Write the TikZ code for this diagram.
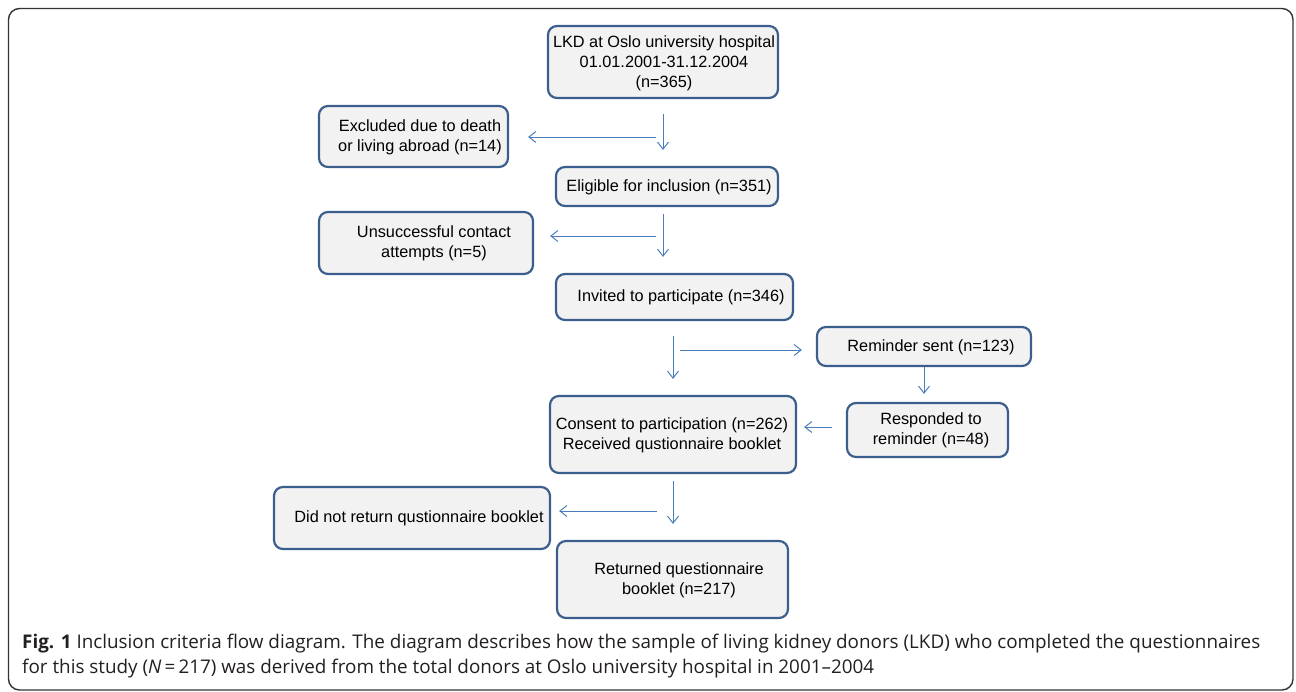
\documentclass[tikz,border=0pt]{standalone}
\usepackage{fontspec}
\setmainfont{Liberation Sans}
\newfontfamily\capfont{Open Sans}
\usetikzlibrary{arrows.meta}
\definecolor{boxdraw}{HTML}{3B5E8C}
\definecolor{boxfill}{HTML}{F2F2F2}
\definecolor{arrowblue}{HTML}{4A7EBB}
\definecolor{captext}{HTML}{231F20}
\tikzset{
  flowbox/.style={draw=boxdraw, fill=boxfill, line width=2.2pt, rounded corners=9pt, inner sep=0pt},
  boxtext/.style={align=center, font=\fontsize{16.3}{19.8}\selectfont, text=black, inner sep=0pt},
  arr/.style={draw=arrowblue, line width=1pt, -{Straight Barb[length=7pt,width=11pt]}},
  captxt/.style={anchor=base west, inner sep=0pt, text=captext, font=\capfont\fontsize{18.85}{21}\selectfont}
}
\begin{document}
\begin{tikzpicture}[x=1pt,y=-1pt]
\useasboundingbox (0,0) rectangle (1296,691);
% outer frame
\draw[line width=1.4pt, draw=black!80, rounded corners=11pt] (8.5,8.5) rectangle (1293,690);

% boxes
\node[flowbox, minimum width=230pt, minimum height=72pt] (lkd)  at (663,62) {};
\node[flowbox, minimum width=189pt, minimum height=61pt] (excl) at (413.5,136.5) {};
\node[flowbox, minimum width=222pt, minimum height=39pt] (elig) at (667,186.5) {};
\node[flowbox, minimum width=214pt, minimum height=62pt] (unsu) at (426,243) {};
\node[flowbox, minimum width=237pt, minimum height=46pt] (invi) at (674.5,297) {};
\node[flowbox, minimum width=214pt, minimum height=39pt] (remi) at (924,346.5) {};
\node[flowbox, minimum width=161pt, minimum height=54pt] (resp) at (927.5,430) {};
\node[flowbox, minimum width=246pt, minimum height=77pt] (cons) at (673,434.5) {};
\node[flowbox, minimum width=276pt, minimum height=62pt] (dnr)  at (412,518) {};
\node[flowbox, minimum width=231pt, minimum height=77pt] (ret)  at (672.5,579.5) {};

% texts
\node[boxtext] (lkdT)  at (664,63)  {LKD at Oslo university hospital\\01.01.2001-31.12.2004\\(n=365)};
\node[boxtext] (exclT) at (420,137) {Excluded due to death\\or living abroad (n=14)};
\node[boxtext] (eligT) at (669,187) {Eligible for inclusion (n=351)};
\node[boxtext] (unsuT) at (434,243) {Unsuccessful contact\\attempts (n=5)};
\node[boxtext] (inviT) at (681,297) {Invited to participate (n=346)};
\node[boxtext] (remiT) at (931,347) {Reminder sent (n=123)};
\node[boxtext] (respT) at (931,430) {Responded to\\reminder (n=48)};
\node[boxtext] (consT) at (672,435) {Consent to participation (n=262)\\Received qustionnaire booklet};
\node[boxtext] (dnrT)  at (419,518) {Did not return qustionnaire booklet};
\node[boxtext] (retT)  at (679,580) {Returned questionnaire\\booklet (n=217)};

% vertical arrows
\draw[arr, shorten <=15pt, shorten >=16pt] (lkd.south) -- (lkd.south |- elig.north);
\draw[arr, shorten <=7pt, shorten >=16pt] (lkd.south |- elig.south) -- (lkd.south |- invi.north);
\draw[arr, shorten <=15pt, shorten >=16pt] (cons.north |- invi.south) -- (cons.north);
\draw[arr, shorten >=8pt] (remi.south) -- (remi.south |- resp.north);
\draw[arr, shorten <=7pt, shorten >=16pt] (cons.south) -- (cons.south |- ret.north);

% horizontal arrows
\coordinate (h1s) at (656,137);
\draw[arr, shorten >=19pt] (h1s) -- (h1s -| excl.east);
\coordinate (h2s) at (656,236);
\draw[arr, shorten >=16pt] (h2s) -- (h2s -| unsu.east);
\coordinate (h3s) at (680,350);
\draw[arr, shorten >=14pt] (h3s) -- (h3s -| remi.west);
\draw[arr, shorten <=14pt, shorten >=7pt] ([yshift=3pt]resp.west) -- ([yshift=3pt]resp.west -| cons.east);
\coordinate (h5s) at (657,511);
\draw[arr, shorten >=8pt] (h5s) -- (h5s -| dnr.east);

% caption
\node[captxt] (cap1) at (22,648) {\textbf{Fig. 1} Inclusion criteria flow diagram. The diagram describes how the sample of living kidney donors (LKD) who completed the questionnaires};
\node[captxt] (cap2) at (22,673) {for this study ({\itshape N}\,=\,217) was derived from the total donors at Oslo university hospital in 2001–2004};
\end{tikzpicture}
\end{document}
